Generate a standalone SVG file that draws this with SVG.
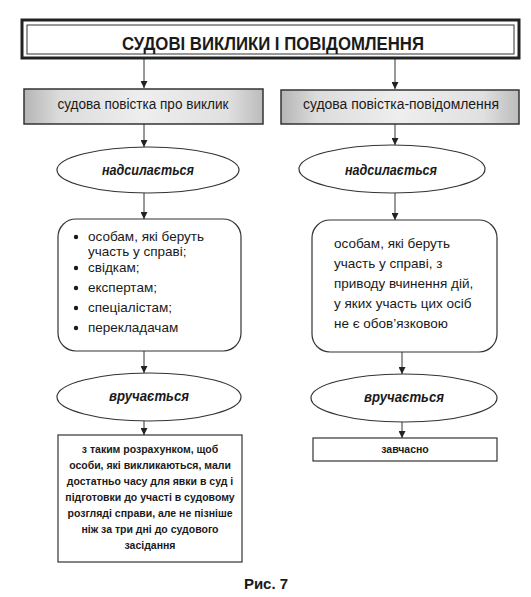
<svg xmlns="http://www.w3.org/2000/svg" width="531" height="597" viewBox="0 0 531 597">
  <defs>
    <linearGradient id="shade" x1="0" y1="0" x2="1" y2="0">
      <stop offset="0" stop-color="#b5b5b5"/>
      <stop offset="0.15" stop-color="#dcdcdc"/>
      <stop offset="0.5" stop-color="#eeeeee"/>
      <stop offset="0.85" stop-color="#e0e0e0"/>
      <stop offset="1" stop-color="#bcbcbc"/>
    </linearGradient>
    <marker id="arrow" markerUnits="userSpaceOnUse" viewBox="0 0 8 8" refX="8" refY="4" markerWidth="8" markerHeight="7" orient="auto">
      <path d="M0,0 L8,4 L0,8 z" fill="#222"/>
    </marker>
  </defs>
  <style>
    .box { fill: #ffffff; stroke: #333333; stroke-width: 1.2; }
    .shaded { fill: url(#shade); stroke: #333333; stroke-width: 1.5; }
    .conn { stroke: #333333; stroke-width: 1; fill: none; marker-end: url(#arrow); }
    .t { font-family: "Liberation Sans", Arial, sans-serif; fill: #1a1a1a; }
    .title { font-size: 19px; font-weight: bold; }
    .sub { font-size: 14px; }
    .oval { font-size: 15px; font-weight: bold; font-style: italic; }
    .body { font-size: 13.5px; }
    .small { font-size: 10.5px; font-weight: bold; }
    .cap { font-size: 15px; font-weight: bold; }
  </style>
  <rect width="531" height="597" fill="#ffffff"/>

  <g id="connectors">
    <line class="conn" x1="144" y1="59" x2="144" y2="88"/>
    <line class="conn" x1="395" y1="59" x2="395" y2="89"/>
    <line class="conn" x1="144" y1="124" x2="144" y2="147"/>
    <line class="conn" x1="395" y1="124" x2="395" y2="145"/>
    <line class="conn" x1="144" y1="193" x2="144" y2="219"/>
    <line class="conn" x1="395" y1="193" x2="395" y2="220"/>
    <line class="conn" x1="144" y1="351" x2="144" y2="373"/>
    <line class="conn" x1="402" y1="352" x2="402" y2="374"/>
    <line class="conn" x1="144" y1="421" x2="144" y2="435"/>
    <line class="conn" x1="402" y1="422" x2="402" y2="438"/>
  </g>

  <g id="title">
    <rect x="22" y="20" width="497" height="38" fill="#ffffff" stroke="#222222" stroke-width="3"/>
    <rect x="27" y="25" width="487" height="29" fill="none" stroke="#333333" stroke-width="1"/>
    <text class="t title" x="273" y="50" text-anchor="middle" textLength="302" lengthAdjust="spacingAndGlyphs">СУДОВІ ВИКЛИКИ І ПОВІДОМЛЕННЯ</text>
  </g>

  <g id="summons">
    <rect class="shaded" x="24" y="89" width="239" height="35"/>
    <text class="t sub" x="143" y="109" text-anchor="middle" textLength="171" lengthAdjust="spacingAndGlyphs">судова повістка про виклик</text>
  </g>

  <g id="notice">
    <rect class="shaded" x="281" y="90" width="238" height="34"/>
    <text class="t sub" x="401" y="109" text-anchor="middle" textLength="196" lengthAdjust="spacingAndGlyphs">судова повістка-повідомлення</text>
  </g>

  <g id="sent-left">
    <ellipse class="box" cx="148" cy="170" rx="91" ry="23"/>
    <text class="t oval" x="148" y="175" text-anchor="middle" textLength="92" lengthAdjust="spacingAndGlyphs">надсилається</text>
  </g>

  <g id="sent-right">
    <ellipse class="box" cx="392" cy="169" rx="93" ry="24"/>
    <text class="t oval" x="391" y="175" text-anchor="middle" textLength="92" lengthAdjust="spacingAndGlyphs">надсилається</text>
  </g>

  <g id="recipients-left">
    <rect class="box" x="58" y="219" width="183" height="132" rx="18" ry="18"/>
    <circle cx="76" cy="237" r="2.2" fill="#1a1a1a"/>
    <circle cx="76" cy="268" r="2.2" fill="#1a1a1a"/>
    <circle cx="76" cy="288" r="2.2" fill="#1a1a1a"/>
    <circle cx="76" cy="308" r="2.2" fill="#1a1a1a"/>
    <circle cx="76" cy="328" r="2.2" fill="#1a1a1a"/>
    <text class="t body" x="88" y="241">особам, які беруть</text>
    <text class="t body" x="88" y="256">участь у справі;</text>
    <text class="t body" x="88" y="272">свідкам;</text>
    <text class="t body" x="88" y="292">експертам;</text>
    <text class="t body" x="88" y="312">спеціалістам;</text>
    <text class="t body" x="88" y="332">перекладачам</text>
  </g>

  <g id="recipients-right">
    <rect class="box" x="312" y="220" width="185" height="132" rx="18" ry="18"/>
    <text class="t body" x="334" y="248">особам, які беруть</text>
    <text class="t body" x="334" y="268">участь у справі, з</text>
    <text class="t body" x="334" y="288">приводу вчинення дій,</text>
    <text class="t body" x="334" y="308">у яких участь цих осіб</text>
    <text class="t body" x="334" y="328">не є обов’язковою</text>
  </g>

  <g id="served-left">
    <ellipse class="box" cx="149" cy="397" rx="92" ry="24"/>
    <text class="t oval" x="149" y="401" text-anchor="middle" textLength="80" lengthAdjust="spacingAndGlyphs">вручається</text>
  </g>

  <g id="served-right">
    <ellipse class="box" cx="404" cy="398" rx="93" ry="24"/>
    <text class="t oval" x="404" y="402" text-anchor="middle" textLength="80" lengthAdjust="spacingAndGlyphs">вручається</text>
  </g>

  <g id="timing-left">
    <rect class="box" x="58" y="435" width="184" height="127"/>
    <text class="t small" x="150" y="453" text-anchor="middle">з таким розрахунком, щоб</text>
    <text class="t small" x="150" y="469" text-anchor="middle">особи, які викликаються, мали</text>
    <text class="t small" x="150" y="485" text-anchor="middle">достатньо часу для явки в суд і</text>
    <text class="t small" x="150" y="501" text-anchor="middle">підготовки до участі в судовому</text>
    <text class="t small" x="150" y="517" text-anchor="middle">розгляді справи, але не пізніше</text>
    <text class="t small" x="150" y="533" text-anchor="middle">ніж за три дні до судового</text>
    <text class="t small" x="150" y="549" text-anchor="middle">засідання</text>
  </g>

  <g id="timing-right">
    <rect class="box" x="313" y="438" width="184" height="23"/>
    <text class="t small" x="405" y="453" text-anchor="middle">завчасно</text>
  </g>

  <text class="t cap" x="266" y="589" text-anchor="middle">Рис. 7</text>
</svg>
